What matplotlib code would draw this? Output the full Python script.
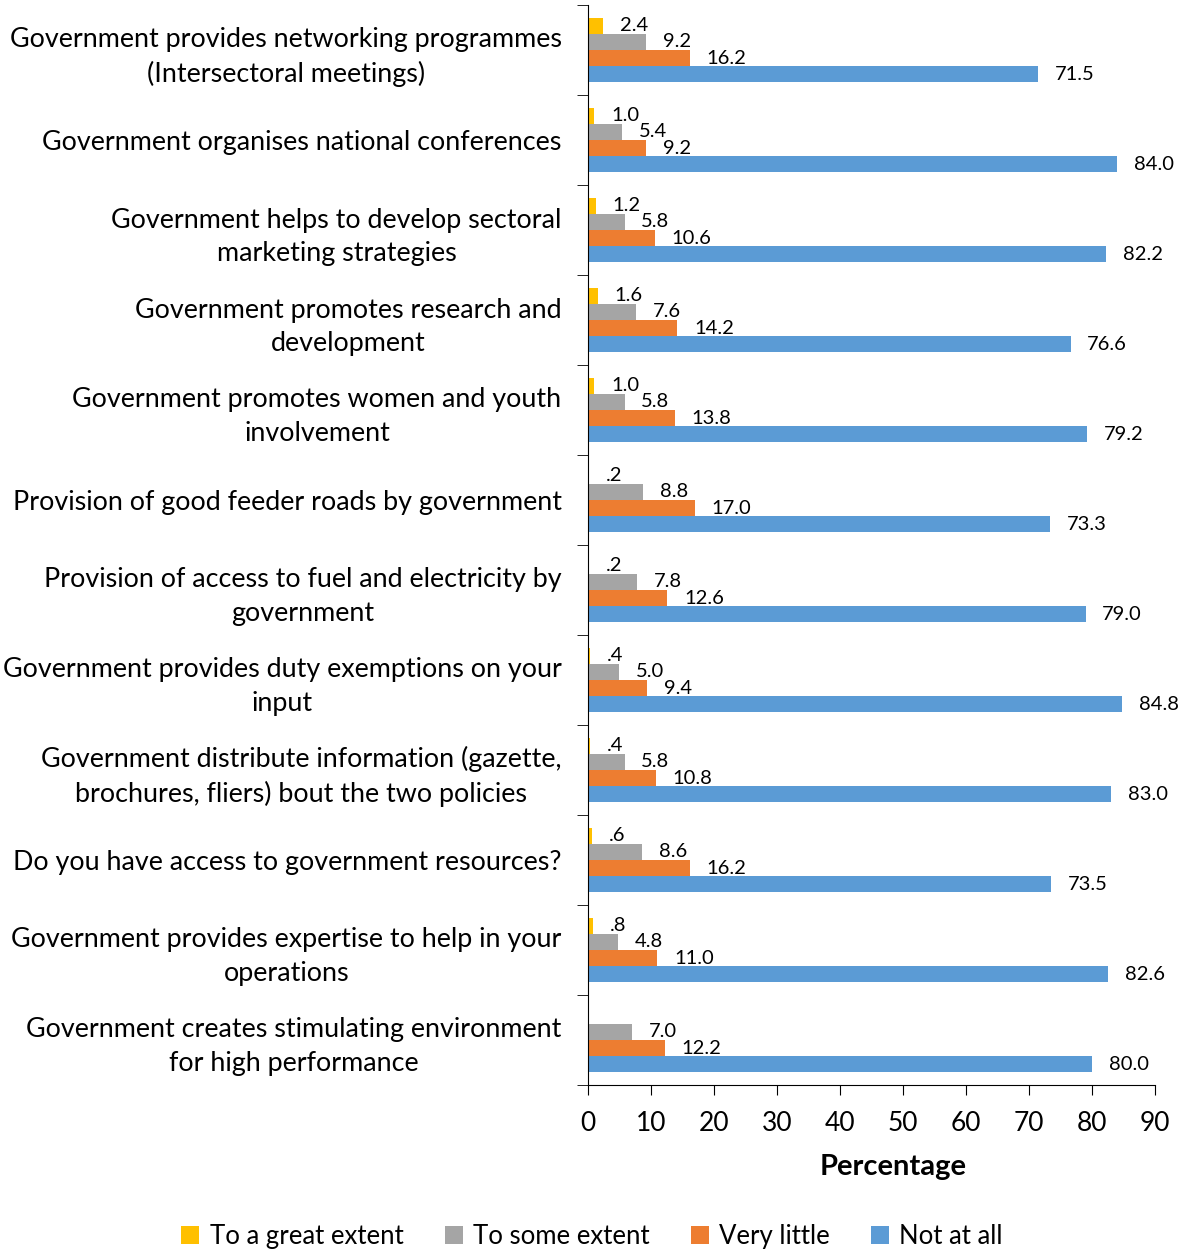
import numpy as np
import matplotlib
matplotlib.use("Agg")
import matplotlib.pyplot as plt

categories = [
    "Government provides networking programmes\n(Intersectoral meetings)",
    "Government organises national conferences",
    "Government helps to develop sectoral\nmarketing strategies",
    "Government promotes research and\ndevelopment",
    "Government promotes women and youth\ninvolvement",
    "Provision of good feeder roads by government",
    "Provision of access to fuel and electricity by\ngovernment",
    "Government provides duty exemptions on your\ninput",
    "Government distribute information (gazette,\nbrochures, fliers) bout the two policies",
    "Do you have access to government resources?",
    "Government provides expertise to help in your\noperations",
    "Government creates stimulating environment\nfor high performance",
]
great = [2.4, 1.0, 1.2, 1.6, 1.0, 0.2, 0.2, 0.4, 0.4, 0.6, 0.8, 0.0]
some = [9.2, 5.4, 5.8, 7.6, 5.8, 8.8, 7.8, 5.0, 5.8, 8.6, 4.8, 7.0]
little = [16.2, 9.2, 10.6, 14.2, 13.8, 17.0, 12.6, 9.4, 10.8, 16.2, 11.0, 12.2]
not_at_all = [71.5, 84.0, 82.2, 76.6, 79.2, 73.3, 79.0, 84.8, 83.0, 73.5, 82.6, 80.0]

series = [
    ("To a great extent", great, "#FFC000"),
    ("To some extent", some, "#A5A5A5"),
    ("Very little", little, "#ED7D31"),
    ("Not at all", not_at_all, "#5B9BD5"),
]

plt.rcParams['font.family'] = ['Lato', 'DejaVu Sans']

fig = plt.figure(figsize=(11.84, 12.52), dpi=100)
ax = fig.add_axes([0.4966, 0.1334, 0.4789, 0.8626])

y = np.arange(len(categories))
h = 0.18


def fmt(v):
    if v == 0:
        return ""
    s = f"{v:.1f}"
    if v < 1 and s.startswith("0"):
        s = s[1:]
    return s


for k, (name, vals, col) in enumerate(series):
    bars = ax.barh(y + (k - 1.5) * h, vals, height=h, color=col, label=name)
    ax.bar_label(bars, labels=[fmt(v) for v in vals], padding=12, fontsize=14.5)

ax.set_xlim(0, 90)
ax.set_ylim(len(categories) - 0.5, -0.5)
ax.set_xticks(np.arange(0, 91, 10))
ax.set_yticks(y)
ax.set_yticklabels(categories, fontsize=19.4, ha="right", multialignment="center",
                   linespacing=1.42)
ax.tick_params(axis="y", length=0, pad=19)
ax.set_yticks(np.arange(-0.5, len(categories), 1), minor=True)
ax.tick_params(axis="y", which="minor", length=8, color="black")
ax.tick_params(axis="x", labelsize=19, length=7, pad=12, direction="out")

for side in ["top", "right"]:
    ax.spines[side].set_visible(False)
ax.spines["left"].set_color("black")
ax.spines["bottom"].set_color("black")

ax.set_xlabel("Percentage", fontsize=21, fontweight="bold", labelpad=12)
ax.xaxis.set_label_coords(0.538, -0.064)

fig.legend(loc="lower center", ncol=4, frameon=False, fontsize=18.5,
           bbox_to_anchor=(0.5, -0.016), handlelength=0.7, handleheight=0.7,
           columnspacing=1.6, handletextpad=0.4)

fig.savefig("out.png", dpi=100)
